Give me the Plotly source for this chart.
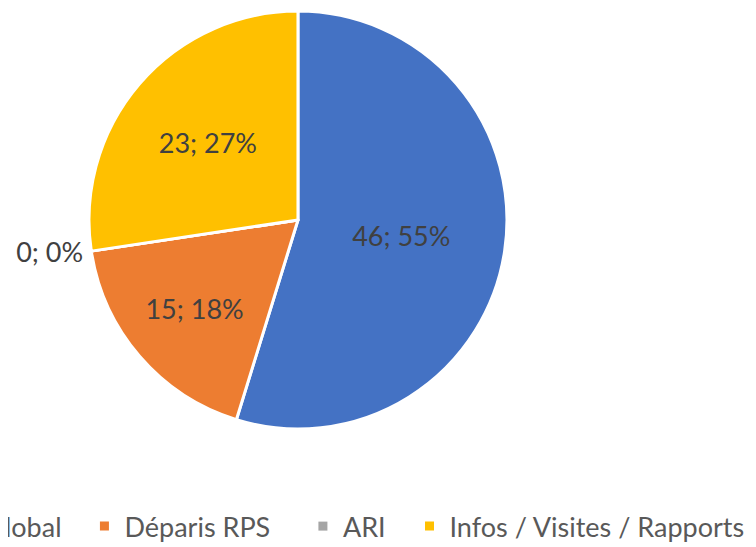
import plotly.graph_objects as go

# Répartition des sollicitations
labels = ["Global", "Déparis RPS", "ARI", "Infos / Visites / Rapports"]
values = [46, 15, 0, 23]
colors = ["#4472C4", "#ED7D31", "#A5A5A5", "#FFC000"]

FONT = "Lato"

fig = go.Figure()

fig.add_trace(go.Pie(
    labels=labels,
    values=values,
    sort=False,
    direction="clockwise",
    rotation=0,
    marker=dict(colors=colors, line=dict(color="white", width=3)),
    texttemplate="%{value}; %{percent:.0%}",
    textposition=["inside", "inside", "outside", "inside"],
    insidetextorientation="horizontal",
    textfont=dict(family=FONT, size=27, color="#404040"),
    domain=dict(x=[0.1071, 0.6600], y=[0.2304, 0.9945]),
    showlegend=False,
))

# légende : une entrée par catégorie, placée comme dans l'original
legend_x = [-0.0829, 0.1011, 0.3901, 0.5311]
for i, (name, col) in enumerate(zip(labels, colors)):
    key = "legend" if i == 0 else f"legend{i + 1}"
    fig.add_trace(go.Scatter(
        x=[None], y=[None],
        mode="markers",
        name=name,
        marker=dict(symbol="square", size=9, color=col),
        legend=key,
        showlegend=True,
    ))
    fig.update_layout({key: dict(
        x=legend_x[i], y=0.052, xanchor="left", yanchor="middle",
        orientation="h",
        font=dict(family=FONT, size=27, color="#595959"),
        bgcolor="rgba(0,0,0,0)",
    )})

fig.update_layout(
    width=756,
    height=547,
    margin=dict(t=0, b=0, l=0, r=0, autoexpand=False),
    paper_bgcolor="white",
    plot_bgcolor="white",
    xaxis=dict(visible=False),
    yaxis=dict(visible=False),
)

fig.write_html("out.html")
